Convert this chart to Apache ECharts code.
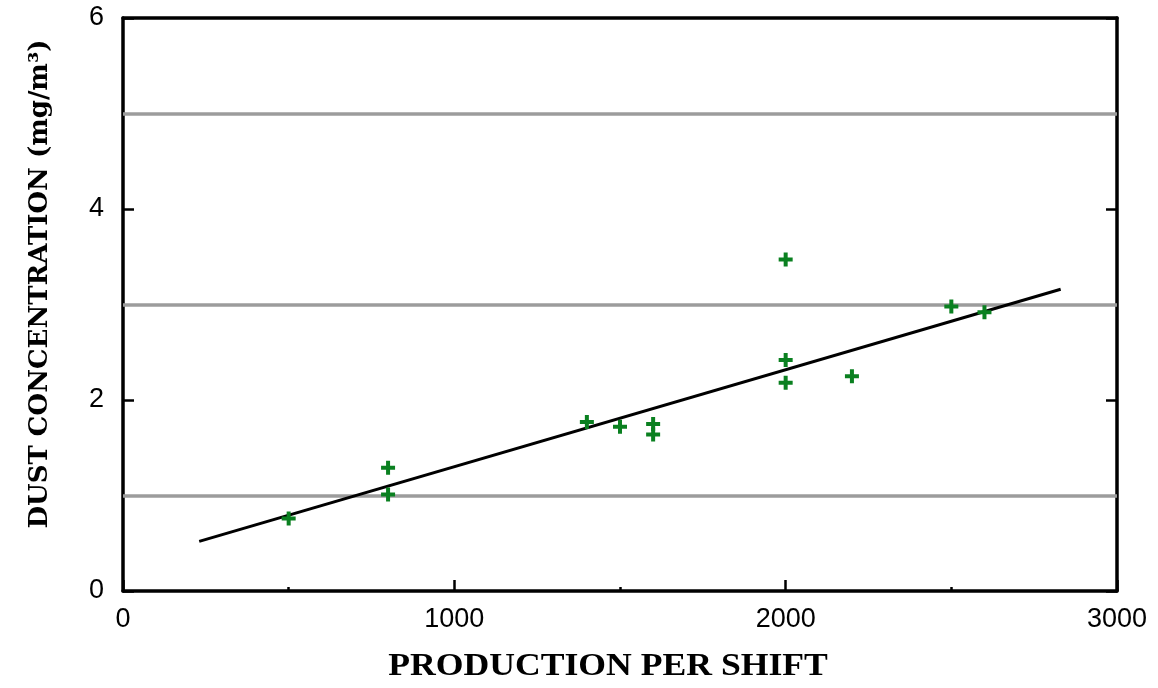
<!DOCTYPE html>
<html>
<head>
<meta charset="utf-8">
<script src="https://cdn.jsdelivr.net/npm/echarts@6/dist/echarts.min.js"></script>
<style>
  html, body { margin: 0; padding: 0; background: #fff; }
  #chart { width: 1158px; height: 688px; }
</style>
</head>
<body>
<div id="chart"></div>
<script>
// Production per shift vs. measured dust concentration
const productionX = [500, 800, 800, 1400, 1500, 1600, 1600, 2000, 2000, 2000, 2200, 2500, 2600];
const dustY      = [0.76, 1.29, 1.01, 1.77, 1.72, 1.75, 1.64, 3.47, 2.42, 2.18, 2.25, 2.98, 2.92];

// Fitted regression line end points
const trendX = [230, 2830];
const trendY = [0.52, 3.16];

// Horizontal reference lines
const refLevels = [1, 3, 5];

const xTicks = [0, 1000, 2000, 3000];
const yTicks = [0, 2, 4, 6];

const xTitle = 'PRODUCTION PER SHIFT';
const yTitle = 'DUST CONCENTRATION (mg/m\u00B3)';

const chart = echarts.init(document.getElementById('chart'));

const axisLine = { show: true, onZero: false, lineStyle: { color: '#000', width: 3.5 } };
const tickStyle = { color: '#000', width: 2.5 };
const tickFont = '"Liberation Sans", Arial, sans-serif';

chart.setOption({
  animation: false,
  backgroundColor: '#fff',
  grid: { left: 123, right: 41, top: 18, bottom: 97, containLabel: false },
  xAxis: [
    {
      type: 'value', position: 'bottom',
      min: xTicks[0], max: xTicks[xTicks.length - 1], interval: 1000,
      axisLine: axisLine,
      axisTick: { show: true, inside: true, length: 11, lineStyle: tickStyle },
      minorTick: { show: true, splitNumber: 2, length: 4, lineStyle: tickStyle },
      axisLabel: {
        margin: 15,
        color: '#000',
        fontFamily: tickFont,
        fontSize: 27,
        formatter: v => String(v)
      },
      splitLine: { show: false }
    },
    {
      type: 'value', position: 'top',
      min: xTicks[0], max: xTicks[xTicks.length - 1], interval: 1000,
      axisLine: axisLine,
      axisTick: { show: false },
      axisLabel: { show: false },
      splitLine: { show: false }
    }
  ],
  yAxis: [
    {
      type: 'value', position: 'left',
      min: yTicks[0], max: yTicks[yTicks.length - 1], interval: 2,
      axisLine: axisLine,
      axisTick: { show: true, inside: true, length: 11, lineStyle: tickStyle },
      axisLabel: {
        margin: 19,
        color: '#000',
        fontFamily: tickFont,
        fontSize: 27,
        formatter: v => String(v)
      },
      splitLine: { show: false }
    },
    {
      type: 'value', position: 'right',
      min: yTicks[0], max: yTicks[yTicks.length - 1], interval: 2,
      axisLine: axisLine,
      axisTick: { show: true, inside: true, length: 11, lineStyle: tickStyle },
      axisLabel: { show: false },
      splitLine: { show: false }
    }
  ],
  series: [
    {
      name: 'measured',
      type: 'scatter',
      xAxisIndex: 0, yAxisIndex: 0,
      data: productionX.map((x, i) => [x, dustY[i]]),
      symbol: 'path://M5,0H9V5H14V9H9V14H5V9H0V5H5Z',
      symbolSize: 14,
      itemStyle: { color: '#0a8020', opacity: 1 },
      emphasis: { disabled: true },
      z: 5,
      markLine: {
        silent: true,
        symbol: 'none',
        label: { show: false },
        lineStyle: { color: '#9c9c9c', width: 3.5, type: 'solid', opacity: 1 },
        data: refLevels.map(v => ({ yAxis: v })),
        z: 1
      }
    },
    {
      name: 'fit',
      type: 'line',
      xAxisIndex: 0, yAxisIndex: 0,
      data: trendX.map((x, i) => [x, trendY[i]]),
      showSymbol: false,
      lineStyle: { color: '#000', width: 3 },
      z: 4
    }
  ],
  graphic: [
    {
      type: 'text',
      x: 608, y: 667,
      scaleX: 1.15,
      style: {
        text: xTitle,
        fill: '#000',
        align: 'center',
        verticalAlign: 'middle',
        font: 'bold 31px "Liberation Serif", "Times New Roman", serif'
      }
    },
    {
      type: 'text',
      x: 40, y: 284,
      rotation: Math.PI / 2,
      style: {
        text: yTitle,
        fill: '#000',
        align: 'center',
        verticalAlign: 'middle',
        font: 'bold 26px "DejaVu Serif", serif'
      }
    }
  ]
});
</script>
</body>
</html>
